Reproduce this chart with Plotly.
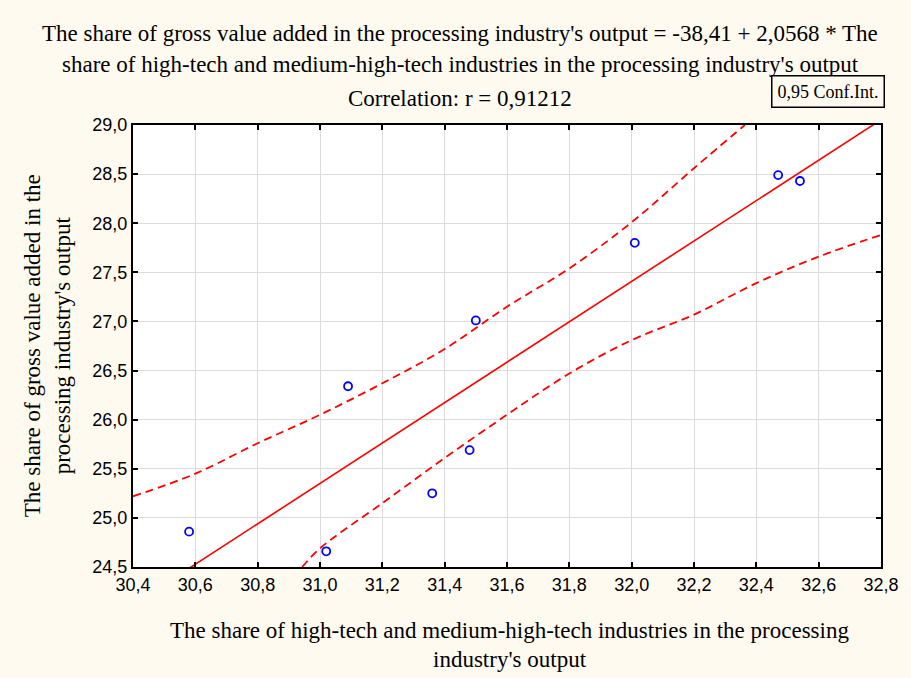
import plotly.graph_objects as go

# Observed data (x: share of high-tech industries, y: share of gross value added)
x_obs = [30.58, 31.02, 31.09, 31.36, 31.48, 31.50, 32.01, 32.47, 32.54]
y_obs = [24.86, 24.66, 26.34, 25.25, 25.69, 27.01, 27.80, 28.49, 28.43]

# Regression line: y = -38.41 + 2.0568 * x
intercept = -38.41
slope = 2.0568
x_line = [30.4, 32.8]
y_line = [intercept + slope * v for v in x_line]

# 0.95 confidence bands
x_upper = [30.4, 30.6, 30.8, 31.0, 31.2, 31.4, 31.6, 31.8, 32.0, 32.2, 32.363]
y_upper = [25.22, 25.45, 25.76, 26.05, 26.37, 26.72, 27.15, 27.54, 28.01, 28.56, 29.0]
x_lower = [30.943, 31.0, 31.2, 31.4, 31.6, 31.8, 32.0, 32.2, 32.4, 32.6, 32.8]
y_lower = [24.5, 24.69, 25.15, 25.61, 26.05, 26.47, 26.81, 27.07, 27.39, 27.66, 27.88]

x_ticks = [30.4, 30.6, 30.8, 31.0, 31.2, 31.4, 31.6, 31.8, 32.0, 32.2, 32.4, 32.6, 32.8]
y_ticks = [24.5, 25.0, 25.5, 26.0, 26.5, 27.0, 27.5, 28.0, 28.5, 29.0]

serif = "Liberation Serif, Times New Roman, serif"
sans = "Liberation Sans, Arial, sans-serif"

fig = go.Figure()
fig.add_trace(go.Scatter(x=x_upper, y=y_upper, mode="lines", line=dict(color="#FF0000", width=1.8, dash="8px,5px", shape="spline"), hoverinfo="skip"))
fig.add_trace(go.Scatter(x=x_lower, y=y_lower, mode="lines", line=dict(color="#FF0000", width=1.8, dash="8px,5px", shape="spline"), hoverinfo="skip"))
fig.add_trace(go.Scatter(x=x_line, y=y_line, mode="lines", line=dict(color="#FF0000", width=1.6)))
fig.add_trace(go.Scatter(x=x_obs, y=y_obs, mode="markers",
                         marker=dict(symbol="circle-open", size=8, color="#0000FF", line=dict(width=1.8, color="#0000FF"))))

axis_common = dict(showline=True, linecolor="black", linewidth=2, mirror="ticks",
                   ticks="inside", ticklen=5, tickwidth=2, tickcolor="black",
                   showgrid=True, gridcolor="#DCDCDC", gridwidth=1, zeroline=False,
                   tickfont=dict(family=sans, size=18, color="black"), tickformat=".1f")

fig.update_xaxes(range=[30.4, 32.8], tickvals=x_ticks, **axis_common)
fig.update_yaxes(range=[24.5, 29.0], tickvals=y_ticks, **axis_common)

title_font = dict(family=serif, size=23, color="black")
annotations = [
    dict(text="The share of gross value added in the processing industry's output = -38,41 + 2,0568 * The",
         x=461, y=33),
    dict(text="share of high-tech and medium-high-tech industries in the processing industry's output",
         x=461, y=64),
    dict(text="Correlation: r = 0,91212", x=461, y=98),
    dict(text="The share of high-tech and medium-high-tech industries in the processing",
         x=511, y=630),
    dict(text="industry's output", x=511, y=659),
]
ann = []
W, H = 911, 678
L, R, T, B = 133, 28, 125, 111
pw, ph = W - L - R, H - T - B
for a in annotations:
    ann.append(dict(text=a["text"], xref="paper", yref="paper",
                    x=(a["x"] - L) / pw, y=1 - (a["y"] - T) / ph,
                    xanchor="center", yanchor="middle", showarrow=False, font=title_font))
# rotated y-axis title
ann.append(dict(text="The share of gross value added in the<br>processing industry's output",
                xref="paper", yref="paper", x=(47 - L) / pw, y=1 - (346 - T) / ph,
                xanchor="center", yanchor="middle", textangle=-90, showarrow=False,
                font=title_font))
# confidence interval legend box
ann.append(dict(text="0,95 Conf.Int.", xref="paper", yref="paper",
                x=(830 - L) / pw, y=1 - (91 - T) / ph, xanchor="center", yanchor="middle",
                showarrow=False, font=dict(family=serif, size=18, color="black"),
                bordercolor="black", borderwidth=1.5, borderpad=5, bgcolor="#FFFAF0"))

fig.update_layout(width=W, height=H, margin=dict(l=L, r=R, t=T, b=B),
                  paper_bgcolor="#FFFAF0", plot_bgcolor="white", showlegend=False,
                  separators=",.", annotations=ann)

fig.write_html("out.html", config={"displayModeBar": False},
               post_script="document.body.style.margin='0';document.body.style.overflow='hidden';")
